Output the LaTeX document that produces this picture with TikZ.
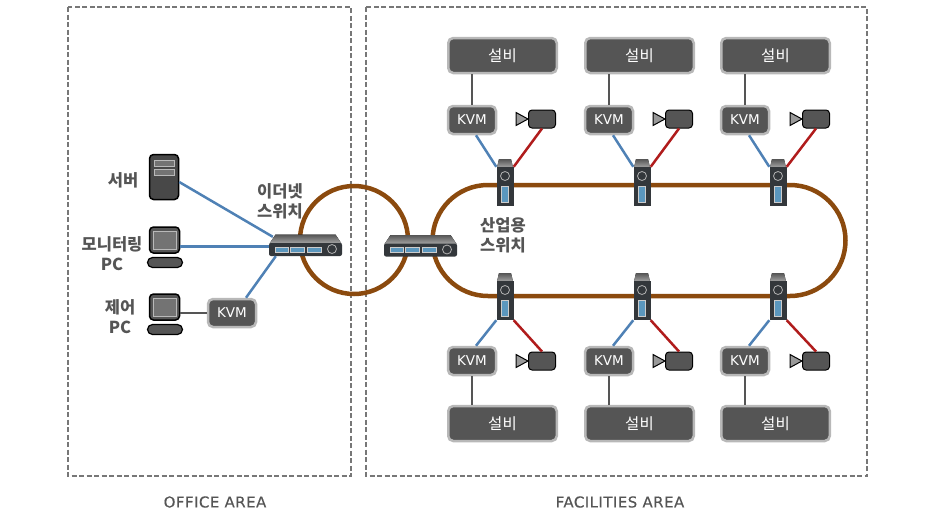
\documentclass[tikz,border=0pt]{standalone}
\usepackage{fontspec}
\setmainfont{DejaVu Sans}
\newfontfamily\kr{Noto Sans CJK KR}
\newfontfamily\areafont[LetterSpace=3,FakeBold=0.3]{DejaVu Sans}
\usepackage{xcolor}
\usepackage{tikz}
\definecolor{boxgray}{HTML}{555555}
\definecolor{rimgray}{HTML}{B8B8B8}
\definecolor{txtgray}{HTML}{555555}
\definecolor{dashgray}{HTML}{777777}
\definecolor{linkblue}{HTML}{4F81B5}
\definecolor{linkred}{HTML}{B01C1C}
\definecolor{ringbrown}{HTML}{8B4A0E}
\definecolor{portblue}{HTML}{5B97BE}
\definecolor{bodydark}{HTML}{33373B}
\tikzstyle{anno} = [font=\kr\bfseries\fontsize{16.5}{17}\selectfont, text=txtgray, align=center, inner sep=0pt]
\tikzstyle{area} = [font=\areafont\fontsize{15}{16}\selectfont, text=txtgray, inner sep=0pt]
\tikzstyle{equip} = [font=\kr\fontsize{15.5}{17}\selectfont, text=white, rectangle, rounded corners=5pt, minimum width=108.5pt, minimum height=35pt, line width=2.5pt, draw=rimgray, fill=boxgray]
\tikzstyle{kvm} = [font=\fontsize{13.5}{15}\selectfont, text=white, rectangle, rounded corners=5pt, minimum width=48pt, minimum height=28pt, line width=2.5pt, draw=rimgray, fill=boxgray]
\tikzstyle{cambody} = [rectangle, rounded corners=3.5pt, minimum width=27pt, minimum height=18pt, inner sep=0pt, draw=black, line width=1pt, fill=boxgray]
\tikzstyle{ethbody} = [rectangle, rounded corners=2pt, minimum width=73pt, minimum height=13pt, inner sep=0pt, fill=bodydark]
\tikzstyle{indbody} = [rectangle, minimum width=17pt, minimum height=39pt, inner sep=0pt, fill=bodydark]
\tikzstyle{monitor} = [rectangle, rounded corners=4pt, minimum width=30pt, minimum height=26pt, inner sep=0pt, line width=1.5pt, draw=black, fill=boxgray]
\tikzstyle{keyboard} = [rectangle, rounded corners=5pt, minimum width=35pt, minimum height=10pt, inner sep=0pt, line width=1.2pt, draw=black, fill=boxgray]
\tikzstyle{server} = [rectangle, rounded corners=4pt, minimum width=29pt, minimum height=45pt, inner sep=0pt, line width=1.5pt, draw=black, fill=boxgray!85!black]
\tikzstyle{dashbox} = [dash pattern=on 5pt off 2.5pt, draw=dashgray, line width=1.2pt]
\tikzstyle{ring} = [draw=ringbrown, line width=4.5pt]
\tikzstyle{blueline} = [draw=linkblue, line width=2.5pt]
\tikzstyle{redline} = [draw=linkred, line width=2.5pt]
\tikzstyle{grayline} = [draw=boxgray, line width=2pt]
% name, x, y
\newcommand{\ethswitch}[3]{
  \begin{scope}[shift={(#2,#3)}]
  \fill[top color=boxgray, bottom color=gray!70] (-36,-6) -- (-30,-15) -- (30,-15) -- (36,-6) -- cycle;
  \node (#1) [ethbody] at (0,0) {};
  \fill[portblue, draw=gray!40] (-30.5,-2.5) rectangle (-17.5,2.5);
  \fill[portblue, draw=gray!40] (-15.5,-2.5) rectangle (-1.5,2.5);
  \fill[portblue, draw=gray!40] (1.5,-2.5) rectangle (15.5,2.5);
  \draw[gray!60, line width=0.8pt] (26.5,-0.5) circle (4.5);
  \end{scope}
}
\newcommand{\indswitch}[3]{
  \begin{scope}[shift={(#2,#3)}]
  \fill[top color=boxgray, bottom color=gray!70] (-8,-19) -- (-6,-27.5) -- (6,-27.5) -- (8,-19) -- cycle;
  \node (#1) [indbody] at (0,0) {};
  \draw[gray!60, line width=0.8pt] (0,-10.5) circle (4.5);
  \fill[portblue, draw=gray!40] (-3.5,0) rectangle (3.5,15.5);
  \end{scope}
}
\newcommand{\camera}[3]{
  \begin{scope}[shift={(#2,#3)}]
  \draw[fill=gray!80, draw=black, line width=1pt] (-26,-6.5) -- (-14,0) -- (-26,6.5) -- cycle;
  \node (#1) [cambody] at (0,0) {};
  \end{scope}
}
\newcommand{\pcset}[3]{
  \begin{scope}[shift={(#2,#3)}]
  \node (#1) [monitor] at (0,0) {};
  \fill[gray!90!black, draw=gray!55] (-11.5,-9) rectangle (11.5,9);
  \node (#1key) [keyboard] at (0.5,22.5) {};
  \end{scope}
}
\begin{document}
\begin{tikzpicture}[x=1pt, y=-1pt]
\useasboundingbox (0,0) rectangle (940,515);
\draw[dashbox] (68,7) rectangle (351,476);
\draw[dashbox] (366,7) rectangle (867,476);
\draw[ring] (354,240) circle (54);
\draw[ring] (488,185) -- (790,185) arc (-90:90:55.5) -- (488,296) arc (90:270:55.5) -- cycle;
  \node (officeLabel) [area] at (215,502) {OFFICE AREA};
  \node (facilLabel) [area] at (620,502) {FACILITIES AREA};
  % office side
  \node (srv) [server] at (164,177) {};
  \fill[gray!90!black, draw=gray!55] (154,160) rectangle (174,166);
  \fill[gray!90!black, draw=gray!55] (154,169) rectangle (174,175);
  \pcset{monPC}{164.5}{240}
  \pcset{ctlPC}{164.5}{307}
  \node (kvmOffice) [kvm] at (232,313) {KVM};
  \ethswitch{ethSw}{305.5}{249.5}
  \ethswitch{facSw}{420.5}{250}
  \node (srvLabel) [anno] at (123,180) {서버};
  \node (monLabel) [anno] at (112,253.5) {모니터링\\[3pt]PC};
  \node (ctlLabel) [anno] at (120,316.5) {제어\\[3pt]PC};
  \node (ethLabel) [anno] at (280,201.5) {이더넷\\[3pt]스위치};
  \node (indLabel) [anno] at (503,235.5) {산업용\\[3pt]스위치};
  % upper row
  \node (equipA) [equip] at (502.5,55.5) {설비};
  \node (equipB) [equip] at (639.5,55.5) {설비};
  \node (equipC) [equip] at (775.5,55.5) {설비};
  \node (kvmA) [kvm] at (472,120) {KVM};
  \node (kvmB) [kvm] at (609,120) {KVM};
  \node (kvmC) [kvm] at (745,120) {KVM};
  \camera{camA}{542}{119}
  \camera{camB}{679}{119}
  \camera{camC}{816}{119}
  \indswitch{swA}{505}{186.5}
  \indswitch{swB}{642}{186.5}
  \indswitch{swC}{778}{186.5}
  % lower row
  \node (equipD) [equip] at (502.5,423.5) {설비};
  \node (equipE) [equip] at (639.5,423.5) {설비};
  \node (equipF) [equip] at (775.5,423.5) {설비};
  \node (kvmD) [kvm] at (472,361) {KVM};
  \node (kvmE) [kvm] at (609,361) {KVM};
  \node (kvmF) [kvm] at (745,361) {KVM};
  \camera{camD}{542}{361}
  \camera{camE}{679}{361}
  \camera{camF}{816}{361}
  \indswitch{swD}{505}{300.5}
  \indswitch{swE}{642}{300.5}
  \indswitch{swF}{778}{300.5}
  % office links
  \draw[blueline] ([yshift=-5pt]srv.east) -- ([shift={(4pt,6pt)}]ethSw.north west);
  \draw[blueline] ([yshift=-6.5pt]monPC.east) -- ([yshift=3pt]ethSw.west);
  \draw[blueline] ([xshift=14pt]kvmOffice.north) -- ([xshift=7pt]ethSw.south west);
  \draw[grayline] ([yshift=-6pt]ctlPC.east) -- (kvmOffice.west);
  % upper links
  \draw[grayline] (equipA.south -| kvmA.north) -- (kvmA.north);
  \draw[grayline] (equipB.south -| kvmB.north) -- (kvmB.north);
  \draw[grayline] (equipC.south -| kvmC.north) -- (kvmC.north);
  \draw[blueline] ([xshift=4pt]kvmA.south) -- (swA.north west);
  \draw[blueline] ([xshift=4pt]kvmB.south) -- (swB.north west);
  \draw[blueline] ([xshift=4pt]kvmC.south) -- (swC.north west);
  \draw[redline] (camA.south) -- (swA.north east);
  \draw[redline] (camB.south) -- (swB.north east);
  \draw[redline] (camC.south) -- (swC.north east);
  % lower links
  \draw[grayline] (equipD.north -| kvmD.south) -- (kvmD.south);
  \draw[grayline] (equipE.north -| kvmE.south) -- (kvmE.south);
  \draw[grayline] (equipF.north -| kvmF.south) -- (kvmF.south);
  \draw[blueline] ([xshift=4pt]kvmD.north) -- (swD.south west);
  \draw[blueline] ([xshift=4pt]kvmE.north) -- (swE.south west);
  \draw[blueline] ([xshift=4pt]kvmF.north) -- (swF.south west);
  \draw[redline] (camD.north) -- (swD.south east);
  \draw[redline] (camE.north) -- (swE.south east);
  \draw[redline] (camF.north) -- (swF.south east);
\end{tikzpicture}
\end{document}
